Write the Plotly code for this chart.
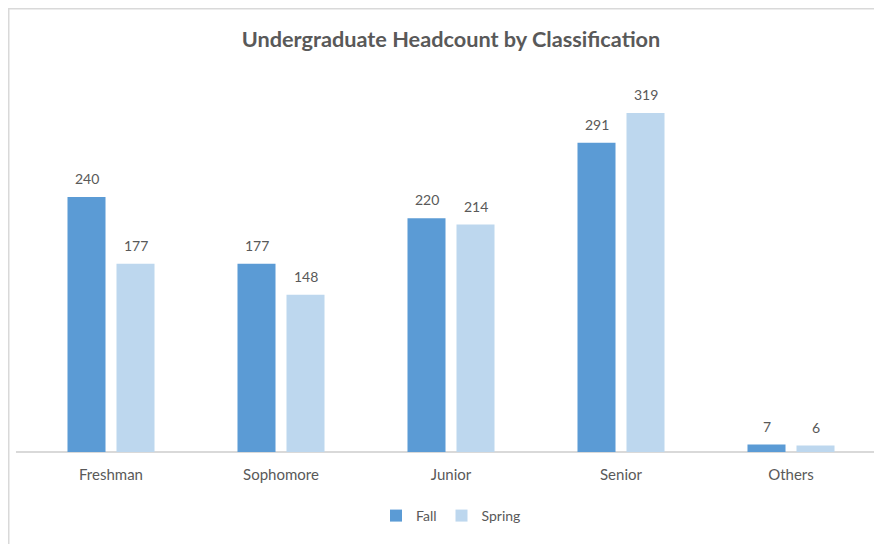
import plotly.graph_objects as go

categories = ["Freshman", "Sophomore", "Junior", "Senior", "Others"]
fall = [240, 177, 220, 291, 7]
spring = [177, 148, 214, 319, 6]
series_names = ["Fall", "Spring"]
colors = ["#5B9BD5", "#BDD7EE"]

FONT = "Lato, Noto Sans, sans-serif"
TXT = "#595959"
GRID = "#D9D9D9"

fig = go.Figure()
for name, vals, col in zip(series_names, [fall, spring], colors):
    fig.add_trace(go.Bar(name=name, x=categories, y=vals,
                         marker=dict(color=col, line=dict(width=0))))

annotations = []
for vals, shift in zip([fall, spring], [-24.5, 24.5]):
    for c, v in zip(categories, vals):
        annotations.append(dict(x=c, y=v, xref="x", yref="y", text=str(v), showarrow=False,
                                xshift=shift, yshift=8, yanchor="bottom",
                                font=dict(family=FONT, size=14, color=TXT)))

W, H = 874, 536
fig.update_layout(
    width=W, height=H,
    margin=dict(l=18, r=6, t=72, b=92),
    paper_bgcolor="white", plot_bgcolor="white",
    barmode="group", bargap=0.4235, bargroupgap=0.224,
    title=dict(text="<b>Undergraduate Headcount by Classification</b>", x=0.5, xanchor="center",
               xref="paper", y=0.941, yanchor="middle",
               font=dict(family=FONT, size=21.7, color=TXT)),
    showlegend=True,
    legend=dict(orientation="h", x=0.5, xanchor="center", y=-0.172, yanchor="middle",
                font=dict(family=FONT, size=14, color=TXT), itemwidth=30, traceorder="normal"),
    annotations=annotations,
    xaxis=dict(showline=False, ticks="", ticklabelstandoff=12,
               tickfont=dict(family=FONT, size=15, color=TXT), showgrid=False, fixedrange=True),
    yaxis=dict(range=[0, 350], showticklabels=False, showgrid=False, zeroline=False, showline=False),
)

# category axis line (extends slightly left of plot area as in reference)
fig.add_shape(type="line", xref="paper", yref="paper", x0=-0.0118, x1=1.0, y0=0, y1=0,
              line=dict(color=GRID, width=2), layer="below")
# outer chart border (top and left edges)
fig.add_shape(type="line", xref="paper", yref="paper", x0=-18 / 850, x1=1 + 6 / 850,
              y0=1 + 72 / 372, y1=1 + 72 / 372, line=dict(color=GRID, width=3))
fig.add_shape(type="line", xref="paper", yref="paper", x0=-18 / 850, x1=-18 / 850,
              y0=1 + 72 / 372, y1=-92 / 372, line=dict(color=GRID, width=3))

fig.write_html("out.html")
